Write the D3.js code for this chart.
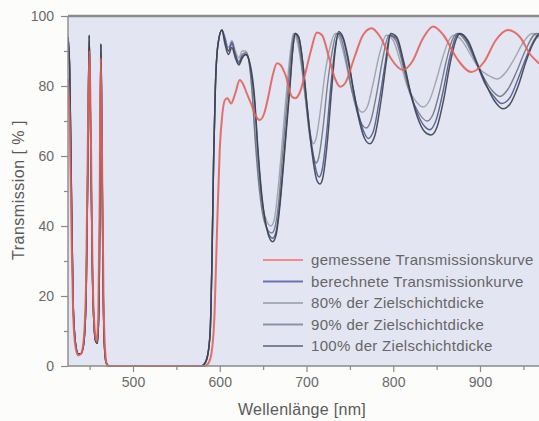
<!DOCTYPE html>
<html><head><meta charset="utf-8">
<script src="https://cdn.jsdelivr.net/npm/d3@7"></script>
<style>
html,body{margin:0;padding:0;background:#fcfcfa;}
svg{display:block;font-family:"Liberation Sans",Arial,sans-serif;}
</style></head>
<body><svg id="chart" width="539" height="421"></svg>
<script>
// ---- data (wavelength nm, transmission %) ----
const xMajorTicks = [500, 600, 700, 800, 900];
const xMinorTicks = [450, 550, 650, 750, 850, 950];
const yMajorTicks = [0, 20, 40, 60, 80, 100];
const yMinorTicks = [10, 30, 50, 70, 90];

const leftBand = [[425,94],[427,85],[429,50],[431,18],[434,6],[437,3.5],[440,3.5],[443,6],[446,20],[448,60],[449.5,94.5],[451,70],[453,30],[455,12],[457,7],[459,6.5],[461,20],[462,55],[463,92],[464,70],[465.5,25],[467,6],[469,1],[472,0],[578,0],[582,0.5],[586,3],[589,10],[591,30],[593,60],[595,80],[598,92],[602.5,96]];

const curve80 = [[606,94],[610,91],[614,93],[618,90],[622,88],[626,90],[630,90],[633,88],[637,80],[641,66],[645,54],[649,46],[654,41.5],[659,40],[663,42],[667,50],[671,61],[675,73],[679,84],[682,91],[685,95],[689,93],[694,86],[698,78],[702,70],[705,65.5],[708,63.5],[711,65],[716,73],[721,83],[727,91],[733,95],[738,93.5],[745,87],[751,80],[757,75],[764,72.5],[770,74],[777,81],[784,89],[792,94.5],[800,93],[808,87],[816,80],[825,76],[834,74],[842,76],[850,82],[858,89],[864,93],[870,94.5],[879,93],[889,89],[899,85],[910,83],[920,82],[930,84],[940,88],[950,92.5],[960,95],[972,93]];
const curve90 = [[606,93],[610,90],[614,92],[618,89],[622,87],[626,89],[630,89.5],[633,88],[637,79],[641,64],[645,52],[649,44],[654,39.5],[660,38],[664,40],[668,47],[672,59],[676,71],[680,83],[683,91],[686,95],[690,93.5],[695,85],[699,76],[703,67],[707,61],[711,58],[714,59.5],[719,68],[724,80],[729,89],[735,95],[740,93.5],[746,87],[752,79],[758,73],[764,69],[769,68],[774,70],[781,78],[788,88],[795,94.5],[803,93],[811,86],[819,78],[829,72.5],[839,70],[846,72],[853,78],[861,87],[867,92.5],[874,95],[883,93],[893,88],[903,83],[913,79],[923,77],[932,79],[942,84],[952,90],[965,95],[975,93]];
const curve100 = [[606,92],[610,89],[614,91],[618,88],[622,86],[626,88],[630,89],[633,88],[636,85],[640,77],[644,62],[648,50],[652,42],[656,37.5],[661,35.5],[665,37.5],[669,45],[673,56],[677,68],[681,80],[684,90],[687,95],[691,94],[696,86],[700,76],[704,66],[708,58],[712,53],[715.6,52],[719,54],[724,64],[729,79],[733,90],[737,95.5],[742,94],[748,88],[754,79],[760,71],[767,65],[773,63.5],[779,66],[786,76],[792,87],[797,95],[804,94],[812,87],[820,78],[828,71],[836,67],[843.5,66],[850,68],[858,76],[866,87],[872,93],[877,95],[886,93],[896,87],[906,81],[916,76],[926.5,73.5],[935,75],[944,80],[953,87],[962,92.5],[970,95],[980,93]];
const curveCalc = [[606,93.5],[610,90],[614,92.5],[618,89],[622,86.5],[626,88.5],[630,89],[633,88],[636,84],[640,76],[644,61],[648,49],[652,42],[656,38],[661,36.5],[665,38.5],[669,46],[673,57],[677,69],[681,81],[684,90],[687,95],[691,94],[696,86],[700,76],[704,67],[708,60],[712,55],[714.5,54],[718,56],[723,66],[728,80],[733,91],[737,95],[742,93.5],[748,87],[754,79],[760,72],[766,67],[771,65],[777,67],[784,76],[791,87],[796,94.5],[804,93.5],[812,86],[820,78],[829,71.5],[836,68.5],[842,67.5],[849,70],[857,78],[865,88],[871,93.5],[876,95],[886,92.5],[896,86.5],[906,80.5],[916,77],[925,75],[934,76.5],[943,81.5],[953,88],[962,93],[969,95],[980,93]];
const measured = [[425,82],[427,70],[429,40],[431,15],[434,5],[437,3],[440,3.5],[443,7],[446,25],[448,65],[449.8,90],[451.5,65],[453.5,25],[456,10],[458,7],[460,15],[461.5,45],[462.8,88],[464.3,60],[466,20],[468,4],[470,0.5],[473,0],[582,0],[586,0.5],[590,3],[594,15],[597,40],[600,62],[603,72],[606,76],[609,76.5],[613,75],[618,78],[623,81.7],[627,80.5],[631,78],[636,75],[642,71.2],[646,70.3],[651,72],[656,77],[661,83],[666,86.5],[670,86],[676,83],[683,77],[687,76.5],[692,78],[698,83],[705,90],[712,95.3],[718,94.5],[726,88],[733,82],[739,79.8],[745,81],[755,88],[765,94.5],[775,96.5],[785,94],[797,88],[811,84.6],[822,87],[834,93.5],[846,97],[858,94.5],[873,88],[890,84],[905,87],[918,93],[932,96],[946,94],[958,89],[968,86.5],[975,85]];

const seriesNames = ["gemessene Transmissionskurve","berechnete Transmissionkurve","80% der Zielschichtdicke","90% der Zielschichtdicke","100% der Zielschichtdicke"];
const seriesColors = ["#e0625c","#4d5690","#9a9ea9","#6e737f","#3b4049"];
const legendColors = ["#f08a8c","#6a72b2","#a9adb9","#8d92a2","#7b8196"];

// ---- chart ----
const svg = d3.select("#chart");
const W = 539, H = 421;
const x = d3.scaleLinear().domain([425, 968]).range([67.94, 539]);
const y = d3.scaleLinear().domain([0, 100]).range([366, 16]);

svg.append("defs").append("clipPath").attr("id","clip")
  .append("rect").attr("x",68).attr("y",14).attr("width",W-68).attr("height",353);

svg.append("rect").attr("x",68).attr("y",16).attr("width",W-68).attr("height",350).attr("fill","#e3e5f2");

const line = d3.line().x(d=>x(d[0])).y(d=>y(d[1])).curve(d3.curveMonotoneX);
const g = svg.append("g").attr("clip-path","url(#clip)");

const full = c => leftBand.concat(c);
const plotted = [
  {d: full(curve80), c: seriesColors[2], w:1.4},
  {d: full(curve90), c: seriesColors[3], w:1.4},
  {d: full(curveCalc), c: seriesColors[1], w:1.4},
  {d: full(curve100), c: seriesColors[4], w:1.5},
  {d: measured, c: seriesColors[0], w:2}
];
plotted.forEach(s=>{
  g.append("path").attr("d", line(s.d)).attr("fill","none")
   .attr("stroke", s.c).attr("stroke-width", s.w).attr("stroke-linejoin","round").attr("opacity",0.9);
});

// axes
const axCol = "#8a8a8a";
const xAxis = svg.append("g").attr("transform","translate(0,366)")
  .call(d3.axisBottom(x).tickValues(xMajorTicks).tickSize(6).tickPadding(5).tickFormat(d3.format("d")));
const xMinor = svg.append("g").attr("transform","translate(0,366)")
  .call(d3.axisBottom(x).tickValues(xMinorTicks).tickSize(4).tickFormat(""));
const yAxis = svg.append("g").attr("transform","translate(68,0)")
  .call(d3.axisLeft(y).tickValues(yMajorTicks).tickSize(7).tickPadding(7).tickFormat(d3.format("d")));
const yMinor = svg.append("g").attr("transform","translate(68,0)")
  .call(d3.axisLeft(y).tickValues(yMinorTicks).tickSize(4).tickFormat(""));
[xAxis,xMinor,yAxis,yMinor].forEach(a=>{
  a.select(".domain").attr("stroke",axCol).attr("stroke-width",1.4);
  a.selectAll(".tick line").attr("stroke",axCol).attr("stroke-width",1.2);
  a.selectAll(".tick text").attr("fill","#6a6a6a").attr("font-size","14px")
    .attr("font-family","'Liberation Sans',Arial,sans-serif");
});
xAxis.select(".domain").attr("d","M68,0H539");
xMinor.select(".domain").remove();
yMinor.select(".domain").remove();
yAxis.select(".domain").attr("d","M0,16V366");

// top frame line
svg.append("line").attr("x1",68).attr("x2",W).attr("y1",16).attr("y2",16)
  .attr("stroke","#8c8c8c").attr("stroke-width",2.5);

// axis titles
svg.append("text").attr("x",302).attr("y",415).attr("text-anchor","middle")
  .attr("font-size","16px").attr("letter-spacing","0.3px").attr("fill","#5a5a5a").text("Wellenlänge [nm]");
svg.append("text").attr("transform","translate(24,190) rotate(-90)").attr("text-anchor","middle")
  .attr("font-size","16px").attr("letter-spacing","0.5px").attr("fill","#5a5a5a").text("Transmission [ % ]");

// legend
const lg = svg.append("g");
seriesNames.forEach((n,i)=>{
  const yy = 260 + i*21.5;
  lg.append("line").attr("x1",263).attr("x2",303).attr("y1",yy).attr("y2",yy)
    .attr("stroke",legendColors[i]).attr("stroke-width",2.2);
  lg.append("text").attr("x",311).attr("y",yy).attr("dy","0.35em")
    .attr("font-size","15px").attr("letter-spacing","0.3px").attr("fill","#666").text(n);
});
</script></body></html>
